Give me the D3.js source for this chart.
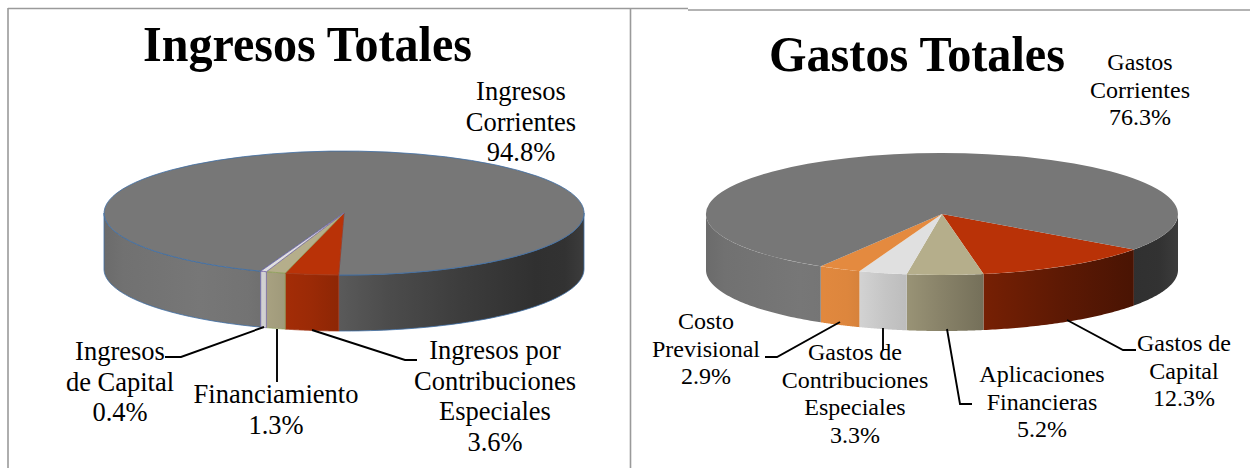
<!DOCTYPE html>
<html><head><meta charset="utf-8">
<script src="https://cdn.jsdelivr.net/npm/d3@7/dist/d3.min.js"></script>
<style>html,body{margin:0;padding:0;background:#fff}svg{display:block}text{font-family:"Liberation Serif",serif;fill:#000}</style>
</head><body><svg id="c" width="1250" height="468"></svg>
<script>
const ingresosCategories = ["Ingresos Corrientes","Ingresos por Contribuciones Especiales","Financiamiento","Ingresos de Capital"];
const ingresosValues = [94.8,3.6,1.3,0.4];
const gastosCategories = ["Gastos de Capital","Aplicaciones Financieras","Gastos de Contribuciones Especiales","Costo Previsional","Gastos Corrientes"];
const gastosValues = [12.3,5.2,3.3,2.9,76.3];
const ingresosColors = ["#777777","#b93207","#b5ae8b","#e0e0e0"];
const gastosColors = ["#b93207","#b5ae8b","#e0e0e0","#e48a3f","#777777"];
const shadeU = [0,0.04,0.2,0.3,0.38,0.43,0.49,0.59,0.75,0.9,0.96,1];
const shadeK = [0.9,0.95,1,0.97,0.88,0.84,0.76,0.64,0.5,0.4,0.42,0.5];

const svg = d3.select("#c");
const defs = svg.append("defs");
const shade = d3.scaleLinear().domain(shadeU).range(shadeK);
const rad = d => d*Math.PI/180;

function pie3d(o){
  const g = svg.append("g");
  const arcs = d3.pie().sort(null).value(d=>d).startAngle(rad(o.start)).endAngle(rad(o.start)+2*Math.PI)(o.values);
  const px = a => o.cx + o.rx*Math.sin(a), py = a => o.cy - o.ry*Math.cos(a);
  const line = d3.line();
  arcs.forEach((a,i)=>{
    const col = d3.rgb(o.colors[i]);
    const gid = o.id+"s"+i;
    const gr = defs.append("linearGradient").attr("id",gid).attr("gradientUnits","userSpaceOnUse")
      .attr("x1",o.cx-o.rx).attr("x2",o.cx+o.rx).attr("y1",0).attr("y2",0);
    shadeU.forEach(u=>{
      const k = shade(u);
      gr.append("stop").attr("offset",u).attr("stop-color",d3.rgb(col.r*k,col.g*k,col.b*k).formatHex());
    });
    [-2,0,2].forEach(n=>{
      const lo = Math.max(a.startAngle, Math.PI/2 + n*Math.PI);
      const hi = Math.min(a.endAngle, 1.5*Math.PI + n*Math.PI);
      if(hi<=lo) return;
      const steps = d3.range(0,61).map(t=>lo+(hi-lo)*t/60);
      const pts = steps.map(t=>[px(t),py(t)]).concat(steps.slice().reverse().map(t=>[px(t),py(t)+o.depth]));
      g.append("path").attr("d",line(pts)+"Z").attr("fill","url(#"+gid+")")
        .attr("stroke",o.outline?o.outline[i]:"none").attr("stroke-width",o.outline?0.8:0);
    });
  });
  const arcGen = d3.arc().innerRadius(0).outerRadius(1);
  arcs.forEach((a,i)=>{
    g.append("path").attr("transform",`translate(${o.cx},${o.cy}) scale(${o.rx},${o.ry})`)
      .attr("d",arcGen(a)).attr("fill",o.colors[i])
      .attr("stroke",o.outline?o.outline[i]:"none").attr("stroke-width",o.outline?0.8:0)
      .attr("vector-effect","non-scaling-stroke");
  });
  o.leaders.forEach(l=>{
    g.append("path").attr("d",line(l)).attr("fill","none").attr("stroke","#000").attr("stroke-width",1.9);
  });
  o.labels.forEach(l=>{
    const t = g.append("text").attr("text-anchor","middle").attr("font-size",o.fs);
    l.lines.forEach((s,j)=>t.append("tspan").attr("x",l.x).attr("y",l.y+j*o.lh).text(s));
  });
  svg.append("text").attr("x",o.tx).attr("y",o.ty).attr("text-anchor","middle")
    .attr("font-size",o.tfs).attr("font-weight","bold")
    .attr("textLength",o.tw).attr("lengthAdjust","spacingAndGlyphs").text(o.title);
}

const frame = [[[8,8.5],[688,8.5]],[[688,10],[1250,10]],[[8,8],[8,468]],[[630.5,9],[630.5,468]]];
frame.forEach(f=>svg.append("path").attr("d",d3.line()(f)).attr("stroke","#9a9a9a").attr("stroke-width",1.6).attr("fill","none"));

const pct = v => v.toFixed(1)+"%";
pie3d({id:"a",title:"Ingresos Totales",tx:307.5,ty:61,tfs:51,tw:329,cx:344,cy:213,rx:240,ry:62,depth:56,start:200.3,
  values:ingresosValues,colors:ingresosColors,outline:["#3f6fa6","#a33a1a","#8ea05a","#7a68a8"],fs:26.5,lh:30.5,
  leaders:[[[165,357],[181,357],[264,327]],[[277,329],[277,382]],[[312,330],[405,360],[417,360]]],
  labels:[
    {x:521,y:100,lines:["Ingresos","Corrientes",pct(ingresosValues[0])]},
    {x:495,y:359,lines:["Ingresos por","Contribuciones","Especiales",pct(ingresosValues[1])]},
    {x:276,y:403,lines:[ingresosCategories[2],pct(ingresosValues[2])]},
    {x:120,y:360,lines:["Ingresos","de Capital",pct(ingresosValues[3])]}
  ]});
pie3d({id:"b",title:"Gastos Totales",tx:917,ty:71,tfs:51,tw:296,cx:942,cy:214,rx:236,ry:61,depth:56,start:125.6,
  values:gastosValues,colors:gastosColors,fs:24,lh:27.5,
  leaders:[[[1067,320],[1123,350],[1136,350]],[[947,329],[960,404],[972,404]],[[883,328],[883,350]],[[840,322],[777,357],[765,357]]],
  labels:[
    {x:1140,y:70,lines:["Gastos","Corrientes",pct(gastosValues[4])]},
    {x:1184,y:351,lines:["Gastos de","Capital",pct(gastosValues[0])]},
    {x:1042,y:382,lines:["Aplicaciones","Financieras",pct(gastosValues[1])]},
    {x:855,y:360,lines:["Gastos de","Contribuciones","Especiales",pct(gastosValues[2])]},
    {x:706,y:329,lines:["Costo","Previsional",pct(gastosValues[3])]}
  ]});
</script></body></html>
